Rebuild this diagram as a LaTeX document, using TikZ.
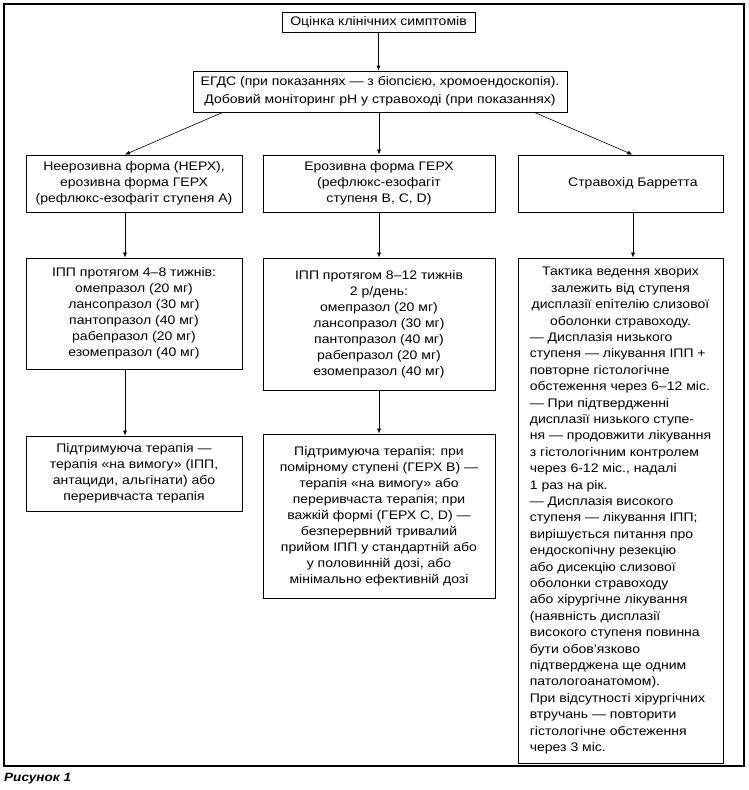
\documentclass[tikz,border=0pt]{standalone}
\usepackage{fontspec}
\setmainfont{Liberation Sans}[FakeStretch=1.13]
\usetikzlibrary{arrows.meta}
\begin{document}
\begin{tikzpicture}[x=1pt,y=-1pt,
  box/.style={draw, line width=0.8pt, inner sep=0pt, align=center,
    font=\fontsize{12.4}{16}\selectfont},
  conn/.style={line width=0.6pt, -{Latex[length=5pt,width=4pt]}}]
\useasboundingbox (0,0) rectangle (748,790);
\draw[line width=1.3pt] (4,4) rectangle (744,766);

\node[box, minimum width=193pt, minimum height=20pt] (top) at (378.5,22) {Оцінка клінічних симптомів};
\node[box, minimum width=374pt, minimum height=41pt, font=\fontsize{12.4}{18}\selectfont] (egds) at (380,91.5)
  {ЕГДС (при показаннях — з біопсією, хромоендоскопія).\\Добовий моніторинг pH у стравоході (при показаннях)};

\node[box, minimum width=216pt, minimum height=57pt] (l1) at (134,183.5)
  {Неерозивна форма (НЕРХ),\\ерозивна форма ГЕРХ\\(рефлюкс-езофагіт ступеня А)};
\node[box, minimum width=232pt, minimum height=57pt] (m1) at (379,183.5)
  {Ерозивна форма ГЕРХ\\(рефлюкс-езофагіт\\ступеня B, C, D)};
\node[box, minimum width=205pt, minimum height=57pt] (r1) at (620.5,183.5)
  {\hspace*{25pt}Стравохід Барретта};

\node[box, minimum width=216pt, minimum height=111pt] (l2) at (134,313.5)
  {ІПП протягом 4–8 тижнів:\\омепразол (20 мг)\\лансопразол (30 мг)\\пантопразол (40 мг)\\рабепразол (20 мг)\\езомепразол (40 мг)};
\node[box, minimum width=232pt, minimum height=132pt] (m2) at (379,324)
  {ІПП протягом 8–12 тижнів\\2 р/день:\\омепразол (20 мг)\\лансопразол (30 мг)\\пантопразол (40 мг)\\рабепразол (20 мг)\\езомепразол (40 мг)};

\node[box, minimum width=216pt, minimum height=75pt] (l3) at (134,473.5)
  {Підтримуюча терапія —\\терапія «на вимогу» (ІПП,\\антациди, альгінати) або\\переривчаста терапія};
\node[box, minimum width=232pt, minimum height=164pt] (m3) at (379,516)
  {Підтримуюча терапія: при\\помірному ступені (ГЕРХ В) —\\терапія «на вимогу» або\\переривчаста терапія; при\\важкій формі (ГЕРХ C, D) —\\безперервний тривалий\\прийом ІПП у стандартній або\\у половинній дозі, або\\мінімально ефективній дозі};

\node[box, minimum width=205pt, minimum height=505pt, font=\fontsize{12.4}{16.4}\selectfont] (r2) at (620.5,510.5)
  {\begin{tabular}{@{}l@{}}
  \multicolumn{1}{@{}c@{}}{Тактика ведення хворих}\\
  \multicolumn{1}{@{}c@{}}{залежить від ступеня}\\
  \multicolumn{1}{@{}c@{}}{дисплазії епітелію слизової}\\
  \multicolumn{1}{@{}c@{}}{оболонки стравоходу.}\\
  — Дисплазія низького\\
  ступеня — лікування ІПП +\\
  повторне гістологічне\\
  обстеження через 6–12 міс.\\
  — При підтвердженні\\
  дисплазії низького ступе-\\
  ня — продовжити лікування\\
  з гістологічним контролем\\
  через 6-12 міс., надалі\\
  1 раз на рік.\\
  — Дисплазія високого\\
  ступеня — лікування ІПП;\\
  вирішується питання про\\
  ендоскопічну резекцію\\
  або дисекцію слизової\\
  оболонки стравоходу\\
  або хірургічне лікування\\
  (наявність дисплазії\\
  високого ступеня повинна\\
  бути обов’язково\\
  підтверджена ще одним\\
  патологоанатомом).\\
  При відсутності хірургічних\\
  втручань — повторити\\
  гістологічне обстеження\\
  через 3 міс.
  \end{tabular}};

\node[anchor=base west, inner sep=0pt, font=\fontsize{12}{14}\selectfont\bfseries\itshape] (cap) at (4,781) {Рисунок 1};

\draw[conn] (top.south) -- (top.south |- egds.north);
\draw[conn] ([xshift=30pt]egds.south west) -- ([xshift=-9pt]l1.north);
\draw[conn] (m1.north |- egds.south) -- (m1.north);
\draw[conn] ([xshift=-33pt]egds.south east) -- ([xshift=12pt]r1.north);
\draw[conn] ([xshift=-9pt]l1.south) -- ([xshift=-9pt]l2.north);
\draw[conn] (m1.south) -- (m2.north);
\draw[conn] ([xshift=12.5pt]r1.south) -- ([xshift=12.5pt]r2.north);
\draw[conn] ([xshift=-9pt]l2.south) -- ([xshift=-9pt]l3.north);
\draw[conn] (m2.south) -- (m3.north);
\end{tikzpicture}
\end{document}
